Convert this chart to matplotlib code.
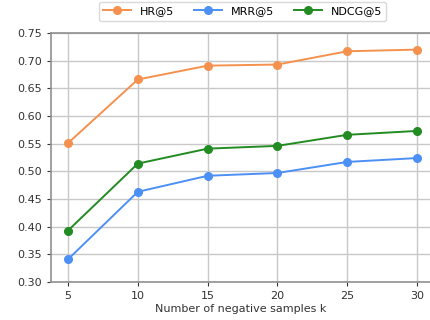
import matplotlib.pyplot as plt

# number of negative samples vs metrics
k = [5, 10, 15, 20, 25, 30]
hr = [0.551, 0.666, 0.691, 0.693, 0.717, 0.720]
mrr = [0.341, 0.463, 0.492, 0.497, 0.517, 0.524]
ndcg = [0.393, 0.514, 0.541, 0.546, 0.566, 0.573]

fig = plt.figure(figsize=(4.3, 3.2), dpi=100)
ax = fig.add_axes([51/430, 38/320, 379/430, 249/320])

ax.plot(k, hr, color='#f5914e', marker='o', markersize=5.5, lw=1.4, label='HR@5')
ax.plot(k, mrr, color='#4d90f5', marker='o', markersize=5.5, lw=1.4, label='MRR@5')
ax.plot(k, ndcg, color='#228b22', marker='o', markersize=5.5, lw=1.4, label='NDCG@5')

ax.set_xlim(3.78, 30.93)
ax.set_ylim(0.30, 0.75)
ax.set_xticks(k)
ax.set_yticks([0.30, 0.35, 0.40, 0.45, 0.50, 0.55, 0.60, 0.65, 0.70, 0.75])
ax.grid(True, color='#c8c8c8', lw=1)
ax.set_axisbelow(True)
ax.tick_params(labelsize=8, colors='#333333', length=3)
for s in ['left', 'bottom', 'top']:
    ax.spines[s].set_color('#909090')
    ax.spines[s].set_linewidth(1.2)
ax.spines['right'].set_visible(False)
ax.set_xlabel('Number of negative samples k', fontsize=8, color='#333333', labelpad=2)

ax.legend(loc='upper center', bbox_to_anchor=(0.505, 1.125), ncol=3, fontsize=8,
          frameon=True, edgecolor='#d0d0d0', borderaxespad=0, handlelength=2.5,
          columnspacing=1.8, fancybox=True)

fig.savefig('out.png', dpi=100)
